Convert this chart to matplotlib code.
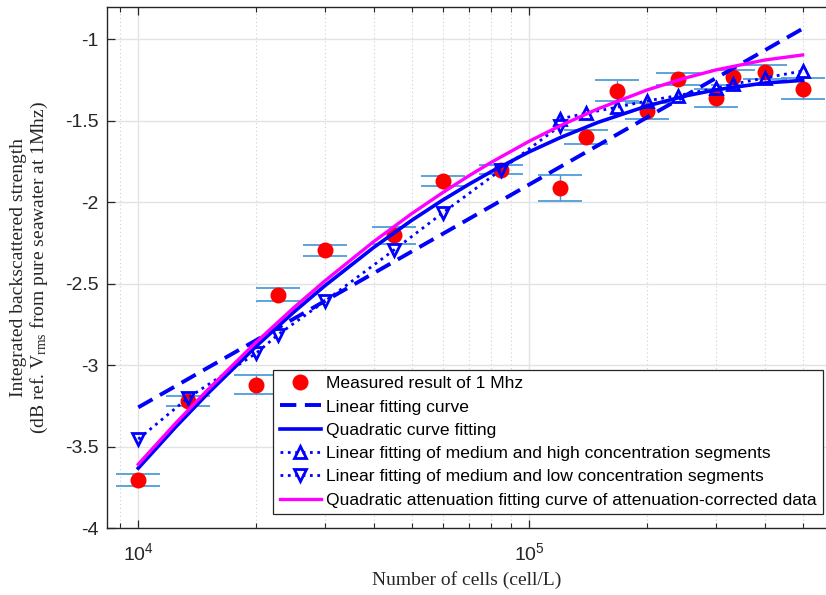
import matplotlib
matplotlib.use("Agg")
import matplotlib.pyplot as plt
from matplotlib.ticker import LogLocator, FixedLocator, FixedFormatter, NullFormatter

plt.rcParams['font.family'] = ['Liberation Sans', 'DejaVu Sans']
plt.rcParams['mathtext.fontset'] = 'custom'
plt.rcParams['mathtext.rm'] = 'Liberation Serif'
plt.rcParams['mathtext.it'] = 'Liberation Serif:italic'
plt.rcParams['axes.unicode_minus'] = False

# ---- data ----
cells = [1.0e4, 1.343e4, 2.0e4, 2.28e4, 3.0e4, 4.5e4, 6.0e4, 8.47e4, 1.2e5,
         1.4e5, 1.68e5, 2.0e5, 2.4e5, 3.0e5, 3.31e5, 4.0e5, 5.0e5]
measured = [-3.705, -3.219, -3.119, -2.566, -2.294, -2.203, -1.870, -1.800, -1.912,
            -1.600, -1.315, -1.439, -1.243, -1.359, -1.233, -1.200, -1.302]
meas_err = [0.036, 0.032, 0.057, 0.041, 0.034, 0.053, 0.031, 0.028, 0.081,
            0.042, 0.064, 0.050, 0.039, 0.056, 0.045, 0.041, 0.064]

lin_x = [1.0e4, 5.0e5]
lin_y = [-3.258, -0.935]

curve_x = [1.0e4, 1.25e4, 1.5e4, 2.0e4, 2.5e4, 3.0e4, 4.0e4, 5.0e4, 6.0e4, 7.0e4,
           8.0e4, 1.0e5, 1.2e5, 1.5e5, 2.0e5, 2.5e5, 3.0e5, 4.0e5, 5.0e5]
quad_y = [-3.631, -3.375, -3.177, -2.884, -2.673, -2.512, -2.277, -2.111, -1.987, -1.890,
          -1.811, -1.690, -1.603, -1.509, -1.409, -1.348, -1.310, -1.268, -1.252]
att_y = [-3.607, -3.352, -3.154, -2.859, -2.646, -2.482, -2.241, -2.070, -1.941, -1.838,
         -1.754, -1.625, -1.530, -1.426, -1.311, -1.238, -1.188, -1.127, -1.096]

high_x = [1.2e5, 1.4e5, 1.68e5, 2.0e5, 2.4e5, 3.0e5, 3.31e5, 4.0e5, 5.0e5]
high_y = [-1.488, -1.453, -1.416, -1.378, -1.345, -1.300, -1.276, -1.237, -1.194]

low_x = [1.0e4, 1.343e4, 2.0e4, 2.28e4, 3.0e4, 4.5e4, 6.0e4, 8.47e4, 1.2e5]
low_y = [-3.453, -3.198, -2.927, -2.811, -2.607, -2.294, -2.066, -1.800, -1.530]

yticks = [-4, -3.5, -3, -2.5, -2, -1.5, -1]
ytick_labels = ['-4', '-3.5', '-3', '-2.5', '-2', '-1.5', '-1']

labels = ['Measured result of 1 Mhz',
          'Linear fitting curve',
          'Quadratic curve fitting',
          'Linear fitting of medium and high concentration segments',
          'Linear fitting of medium and low concentration segments',
          'Quadratic attenuation fitting curve of attenuation-corrected data']

# ---- figure ----
fig = plt.figure(figsize=(8.26, 5.95), dpi=100)
ax = fig.add_axes([0.1299, 0.1121, 0.8701, 0.8766])
ax.set_xscale('log')

ax.errorbar(cells, measured, yerr=meas_err, fmt='none', ecolor='#3f95d6',
            elinewidth=1.0, capsize=15.8, capthick=1.2, zorder=2)
h0, = ax.plot(cells, measured, 'o', color='#ff0000', markersize=11.5,
              markeredgewidth=0, zorder=3)
h1, = ax.plot(lin_x, lin_y, color='#0000ff', lw=2.8, dashes=(4.2, 2.2), zorder=4)
h2, = ax.plot(curve_x, quad_y, color='#0000ff', lw=2.6, zorder=4)
h3, = ax.plot(high_x, high_y, color='#0000ff', lw=2.0, ls=':', marker='^',
              markersize=9, markerfacecolor='none', markeredgewidth=2.0, zorder=4)
h4, = ax.plot(low_x, low_y, color='#0000ff', lw=2.0, ls=':', marker='v',
              markersize=9, markerfacecolor='none', markeredgewidth=2.0, zorder=4)
h5, = ax.plot(curve_x, att_y, color='#ff00ff', lw=2.4, zorder=4)

ax.set_xlim(8332, 5.739e5)
ax.set_ylim(-4, -0.8)

ax.yaxis.set_major_locator(FixedLocator(yticks))
ax.yaxis.set_major_formatter(FixedFormatter(ytick_labels))
ax.xaxis.set_major_locator(LogLocator(base=10))
ax.xaxis.set_minor_locator(LogLocator(base=10, subs=range(2, 10)))
ax.xaxis.set_minor_formatter(NullFormatter())

ax.grid(True, which='major', color='#e3e3e3', lw=1.0, ls='-', zorder=0)
ax.grid(True, which='minor', axis='x', color='#cfcfcf', lw=0.8, ls=(0, (1, 2.5)), zorder=0)
ax.set_axisbelow(True)

for s in ['left', 'top', 'bottom']:
    ax.spines[s].set_color('#262626')
    ax.spines[s].set_linewidth(1.0)
ax.spines['right'].set_visible(False)

ax.tick_params(which='both', direction='in', top=True, right=False,
               color='#262626', labelsize=14, labelcolor='#262626')
ax.tick_params(which='major', length=5.5, width=0.9)
ax.tick_params(which='minor', length=3.5, width=0.8)
ax.tick_params(axis='x', pad=10)
ax.tick_params(axis='y', pad=6)

ax.set_xlabel('Number of cells (cell/L)', fontfamily='Liberation Serif',
              fontsize=14, color='#262626', labelpad=5)
ax.set_ylabel('Integrated backscattered strength\n(dB ref. V$_{\\mathrm{rms}}$ from pure seawater at 1Mhz)',
              fontfamily='Liberation Serif', fontsize=14, color='#262626',
              linespacing=1.1, labelpad=11)

leg = ax.legend([h0, h1, h2, h3, h4, h5], labels, loc='lower right',
                bbox_to_anchor=(0.9958, 0.0274), borderaxespad=0,
                fontsize=12.6, frameon=True, fancybox=False, framealpha=1,
                edgecolor='#262626', handlelength=2.35, handletextpad=0.3,
                labelspacing=0.46, borderpad=0.36)
leg.get_frame().set_linewidth(0.9)

fig.savefig('out.png', dpi=100)
